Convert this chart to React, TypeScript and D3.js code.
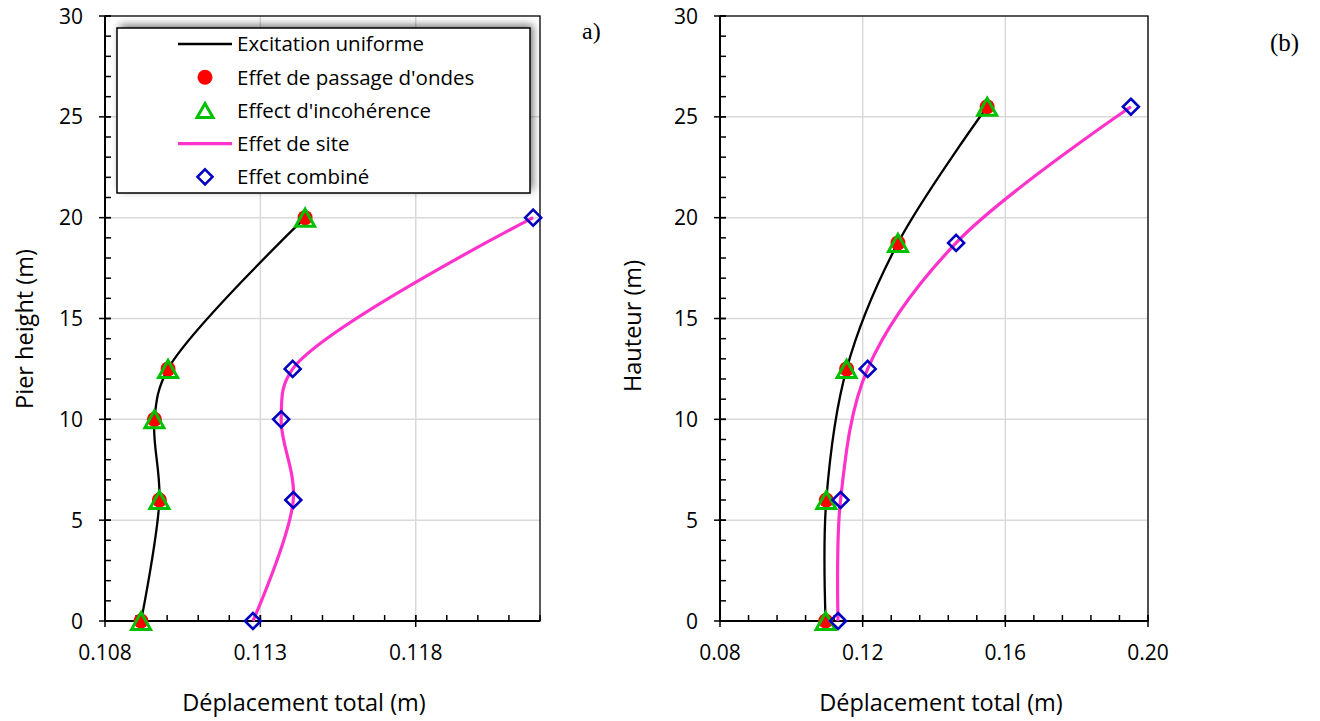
import React from "react";
import * as d3 from "d3";

// Panel (a): pier heights and total displacements
const heightsA = [0, 6, 10, 12.5, 20];
const uniformA = [0.10916, 0.10975, 0.10959, 0.11003, 0.11444];
const wavePassageA = [0.10916, 0.10975, 0.10959, 0.11003, 0.11444];
const incoherenceA = [0.10916, 0.10975, 0.10959, 0.11003, 0.11444];
const siteA = [0.11276, 0.11406, 0.11367, 0.11404, 0.12178];
const combinedA = [0.11276, 0.11406, 0.11367, 0.11404, 0.12178];

// Panel (b): heights and total displacements
const heightsB = [0, 6, 12.5, 18.75, 25.5];
const uniformB = [0.1096, 0.1098, 0.1155, 0.1299, 0.1549];
const wavePassageB = [0.1096, 0.1098, 0.1155, 0.1299, 0.1549];
const incoherenceB = [0.1096, 0.1098, 0.1155, 0.1299, 0.1549];
const siteB = [0.1131, 0.1138, 0.1214, 0.1462, 0.1952];
const combinedB = [0.1131, 0.1138, 0.1214, 0.1462, 0.1952];

// Axis ticks
const xTicksA = [0.108, 0.113, 0.118];
const xTickLabelsA = ["0.108", "0.113", "0.118"];
const xTicksB = [0.08, 0.12, 0.16, 0.2];
const xTickLabelsB = ["0.08", "0.12", "0.16", "0.20"];
const yTicks = [0, 5, 10, 15, 20, 25, 30];

const legendLabels = [
  "Excitation uniforme",
  "Effet de passage d'ondes",
  "Effect d'incohérence",
  "Effet de site",
  "Effet combiné",
];

const FONT = "'Open Sans', sans-serif";
const SERIF = "'Liberation Serif', 'Times New Roman', serif";
const BLACK = "#000000";
const RED = "#FF0000";
const GREEN = "#00C000";
const PINK = "#FF33CC";
const BLUE = "#0000C0";
const GRID = "#D9D9D9";

type Pt = { h: number; v: number };

const zip = (h: number[], v: number[]): Pt[] => h.map((hh, i) => ({ h: hh, v: v[i] }));

function Triangle({ cx, cy, w, h }: { cx: number; cy: number; w: number; h: number }) {
  const p = `M${cx},${cy - h / 2}L${cx + w / 2},${cy + h / 2}L${cx - w / 2},${cy + h / 2}Z`;
  return <path d={p} fill="none" stroke={GREEN} strokeWidth={3} strokeLinejoin="miter" />;
}

function Diamond({ cx, cy, s }: { cx: number; cy: number; s: number }) {
  const r = s / 2;
  const p = `M${cx},${cy - r}L${cx + r},${cy}L${cx},${cy + r}L${cx - r},${cy}Z`;
  return <path d={p} fill="none" stroke={BLUE} strokeWidth={2.6} />;
}

type PanelProps = {
  left: number;
  right: number;
  top: number;
  bottom: number;
  xDomain: [number, number];
  xTicks: number[];
  xTickLabels: string[];
  xMinor: number;
  heights: number[];
  uniform: number[];
  wave: number[];
  incoherence: number[];
  site: number[];
  combined: number[];
  xTitle: string;
  xTitleX: number;
  yTitle: string;
  yTitleX: number;
  yTitleY: number;
};

function Panel(p: PanelProps) {
  const x = d3.scaleLinear().domain(p.xDomain).range([p.left, p.right]);
  const y = d3.scaleLinear().domain([0, 30]).range([p.bottom, p.top]);

  const line = d3
    .line<Pt>()
    .x((d) => x(d.v))
    .y((d) => y(d.h))
    .curve(d3.curveCatmullRom.alpha(0.5));

  const nMinorX = Math.round((p.xDomain[1] - p.xDomain[0]) / p.xMinor);
  const minorX = d3.range(nMinorX + 1).map((i) => p.xDomain[0] + i * p.xMinor);
  const minorY = d3.range(31);

  const uniformPts = zip(p.heights, p.uniform);
  const wavePts = zip(p.heights, p.wave);
  const incPts = zip(p.heights, p.incoherence);
  const sitePts = zip(p.heights, p.site);
  const combPts = zip(p.heights, p.combined);

  return (
    <g>
      {/* gridlines */}
      {p.xTicks
        .filter((t) => t > p.xDomain[0] + 1e-9)
        .map((t) => (
          <line key={"gx" + t} x1={x(t)} x2={x(t)} y1={p.top} y2={p.bottom} stroke={GRID} strokeWidth={1.5} />
        ))}
      {yTicks
        .filter((t) => t > 0 && t < 30)
        .map((t) => (
          <line key={"gy" + t} x1={p.left} x2={p.right} y1={y(t)} y2={y(t)} stroke={GRID} strokeWidth={1.5} />
        ))}
      {/* plot frame */}
      <rect x={p.left} y={p.top} width={p.right - p.left} height={p.bottom - p.top} fill="none" stroke={BLACK} strokeWidth={1.3} />
      <line x1={p.left} x2={p.right} y1={p.bottom} y2={p.bottom} stroke={BLACK} strokeWidth={2} />
      <line x1={p.left} x2={p.left} y1={p.top} y2={p.bottom} stroke={BLACK} strokeWidth={2} />
      {/* minor ticks */}
      {minorX.map((t, i) => (
        <line key={"mx" + i} x1={x(t)} x2={x(t)} y1={p.bottom} y2={p.bottom - 6} stroke={BLACK} strokeWidth={1.5} />
      ))}
      {minorY.map((t) => (
        <line key={"my" + t} x1={p.left} x2={p.left + 6} y1={y(t)} y2={y(t)} stroke={BLACK} strokeWidth={1.5} />
      ))}
      {/* major ticks */}
      {p.xTicks.map((t) => (
        <line key={"Mx" + t} x1={x(t)} x2={x(t)} y1={p.bottom - 6} y2={p.bottom + 6} stroke={BLACK} strokeWidth={1.5} />
      ))}
      {yTicks.map((t) => (
        <line key={"My" + t} x1={p.left - 6} x2={p.left + 6} y1={y(t)} y2={y(t)} stroke={BLACK} strokeWidth={1.5} />
      ))}
      {/* tick labels */}
      {p.xTicks.map((t, i) => (
        <text key={"lx" + t} x={x(t)} y={p.bottom + 39} textAnchor="middle" fontFamily={FONT} fontSize={21} fill={BLACK}>
          {p.xTickLabels[i]}
        </text>
      ))}
      {yTicks.map((t) => (
        <text key={"ly" + t} x={p.left - 22} y={y(t)} dy="0.36em" textAnchor="end" fontFamily={FONT} fontSize={21} fill={BLACK}>
          {t}
        </text>
      ))}
      {/* axis titles */}
      <text x={p.xTitleX} y={p.bottom + 90} textAnchor="middle" fontFamily={FONT} fontSize={23.5} fill={BLACK}>
        {p.xTitle}
      </text>
      <text
        transform={`translate(${p.yTitleX},${p.yTitleY}) rotate(-90)`}
        textAnchor="middle"
        fontFamily={FONT}
        fontSize={23.5}
        fill={BLACK}
      >
        {p.yTitle}
      </text>
      {/* series */}
      <path d={line(uniformPts) ?? ""} fill="none" stroke={BLACK} strokeWidth={2.3} />
      <path d={line(sitePts) ?? ""} fill="none" stroke={PINK} strokeWidth={3.2} />
      {wavePts.map((d, i) => (
        <circle key={"w" + i} cx={x(d.v)} cy={y(d.h)} r={7.5} fill={RED} />
      ))}
      {incPts.map((d, i) => (
        <Triangle key={"t" + i} cx={x(d.v)} cy={y(d.h)} w={19} h={17} />
      ))}
      {combPts.map((d, i) => (
        <Diamond key={"d" + i} cx={x(d.v)} cy={y(d.h)} s={16} />
      ))}
    </g>
  );
}

function Legend({ x0, y0, w, h }: { x0: number; y0: number; w: number; h: number }) {
  const rowY = (i: number) => y0 + 16 + i * 33.2;
  const lx1 = x0 + 61;
  const lx2 = x0 + 115;
  const mx = (lx1 + lx2) / 2;
  const tx = x0 + 120;
  return (
    <g>
      <rect x={x0} y={y0} width={w} height={h} fill="#000" opacity={0.55} filter="url(#legendShadow)" transform="translate(3,-3)" />
      <rect x={x0} y={y0} width={w} height={h} fill="#FFFFFF" stroke={BLACK} strokeWidth={1.5} />
      <line x1={lx1} x2={lx2} y1={rowY(0)} y2={rowY(0)} stroke={BLACK} strokeWidth={2.3} />
      <circle cx={mx} cy={rowY(1)} r={7.5} fill={RED} />
      <Triangle cx={mx} cy={rowY(2)} w={16} h={14} />
      <line x1={lx1} x2={lx2} y1={rowY(3)} y2={rowY(3)} stroke={PINK} strokeWidth={3.2} />
      <Diamond cx={mx} cy={rowY(4)} s={15} />
      {legendLabels.map((s, i) => (
        <text key={s} x={tx} y={rowY(i)} dy="0.36em" fontFamily={FONT} fontSize={20.5} fill={BLACK}>
          {s}
        </text>
      ))}
    </g>
  );
}

export default function App() {
  return (
    <svg
      width={1320}
      height={721}
      viewBox="0 0 1320 721"
      style={{ position: "absolute", left: 0, top: 0, background: "#FFFFFF", display: "block" }}
    >
      <defs>
        <filter id="legendShadow" x="-10%" y="-20%" width="120%" height="140%">
          <feGaussianBlur stdDeviation={4} />
        </filter>
      </defs>
      <rect x={0} y={0} width={1320} height={721} fill="#FFFFFF" />
      <Panel
        left={105}
        right={540}
        top={16}
        bottom={621}
        xDomain={[0.108, 0.122]}
        xTicks={xTicksA}
        xTickLabels={xTickLabelsA}
        xMinor={0.001}
        heights={heightsA}
        uniform={uniformA}
        wave={wavePassageA}
        incoherence={incoherenceA}
        site={siteA}
        combined={combinedA}
        xTitle="Déplacement total (m)"
        xTitleX={304}
        yTitle="Pier height (m)"
        yTitleX={33}
        yTitleY={329}
      />
      <Legend x0={117} y0={28} w={413} h={165} />
      <Panel
        left={720}
        right={1148}
        top={16}
        bottom={621}
        xDomain={[0.08, 0.2]}
        xTicks={xTicksB}
        xTickLabels={xTickLabelsB}
        xMinor={0.008}
        heights={heightsB}
        uniform={uniformB}
        wave={wavePassageB}
        incoherence={incoherenceB}
        site={siteB}
        combined={combinedB}
        xTitle="Déplacement total (m)"
        xTitleX={941}
        yTitle="Hauteur (m)"
        yTitleX={641}
        yTitleY={326}
      />
      <text x={582} y={39} fontFamily={SERIF} fontSize={24} fill={BLACK}>
        a)
      </text>
      <text x={1270} y={51} fontFamily={SERIF} fontSize={25} fill={BLACK}>
        (b)
      </text>
    </svg>
  );
}
